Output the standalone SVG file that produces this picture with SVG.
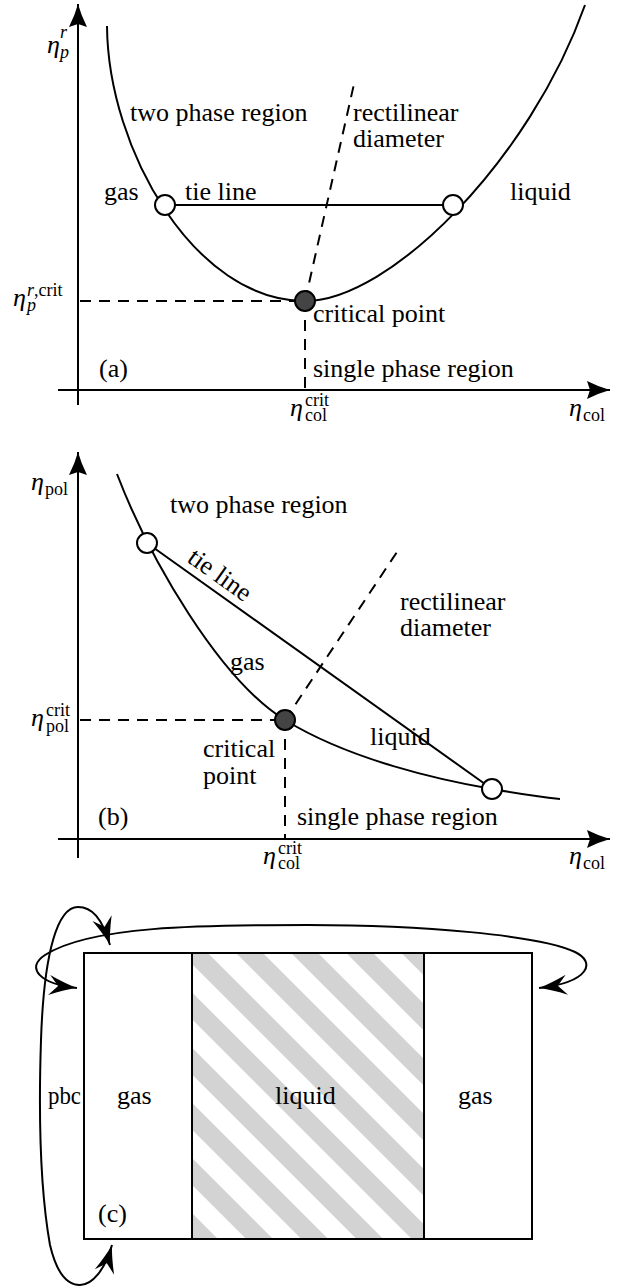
<svg xmlns="http://www.w3.org/2000/svg" width="625" height="1288" viewBox="0 0 625 1288">
<style>
.t{font-family:"Liberation Serif","Times New Roman",serif;font-size:26px;fill:#000}
.s{font-size:18px}
.i{font-style:italic}
.ax{stroke:#000;stroke-width:2;fill:none}
.cv{stroke:#000;stroke-width:2;fill:none}
.ds{stroke:#000;stroke-width:2;fill:none;stroke-dasharray:11 8}
.op{fill:#fff;stroke:#000;stroke-width:2}
.cp{fill:#444;stroke:#000;stroke-width:2}
.bx{fill:#fff;stroke:#000;stroke-width:2}
.wrap{stroke:#000;stroke-width:2;fill:none}
</style>
<defs>
<marker id="axhead" markerUnits="userSpaceOnUse" viewBox="-24 -10 26 20" refX="0" refY="0" markerWidth="26" markerHeight="20" orient="auto" overflow="visible">
<path d="M0,0 Q-11,-3 -23,-9 L-20,0 L-23,9 Q-11,3 0,0 Z" fill="#000"/>
</marker>
<marker id="stealth" markerUnits="userSpaceOnUse" viewBox="-30 -12 32 24" refX="0" refY="0" markerWidth="32" markerHeight="24" orient="auto-start-reverse" overflow="visible">
<path d="M0,0 Q-12,-3 -28,-10 L-19,0 L-28,10 Q-12,3 0,0 Z" fill="#000"/>
</marker>
<pattern id="hatch" patternUnits="userSpaceOnUse" width="39" height="39" patternTransform="rotate(-45)">
<rect x="0" y="0" width="19" height="39" fill="#d3d3d3"/>
</pattern>
</defs>

<!-- Panel (a) -->
<g id="panel-a">
<g id="a-axes">
<line class="ax" x1="78" y1="405" x2="78" y2="4" marker-end="url(#axhead)"/>
<line class="ax" x1="58" y1="390" x2="610" y2="390" marker-end="url(#axhead)"/>
</g>
<g id="a-guides">
<line class="ds" x1="80" y1="301" x2="305" y2="301"/>
<line class="ds" x1="305" y1="301" x2="305" y2="390"/>
<line class="ds" x1="305" y1="301" x2="354" y2="84"/>
</g>
<g id="a-curve">
<path class="cv" d="M107,26 C108,150 195,301 305,301 C390,301 530,160 585,5"/>
</g>
<g id="a-tieline">
<line class="cv" x1="165" y1="205" x2="453" y2="205"/>
</g>
<g id="a-gas-point"><circle class="op" cx="165" cy="205" r="10"/></g>
<g id="a-liquid-point"><circle class="op" cx="453" cy="205" r="10"/></g>
<g id="a-critical-point"><circle class="cp" cx="305" cy="301" r="10"/></g>
<g id="a-labels">
<text class="t"><tspan class="i" x="47" y="53">η</tspan><tspan class="s i" x="60" y="38">r</tspan><tspan class="s i" x="60" y="58">p</tspan></text>
<text class="t"><tspan class="i" x="13" y="306">η</tspan><tspan class="s" x="27" y="296"><tspan class="i">r</tspan>,crit</tspan><tspan class="s i" x="27" y="311">p</tspan></text>
<text class="t" x="130" y="121">two phase region</text>
<text class="t" x="353" y="121">rectilinear</text>
<text class="t" x="353" y="147">diameter</text>
<text class="t" x="104" y="200">gas</text>
<text class="t" x="185" y="200">tie line</text>
<text class="t" x="510" y="200">liquid</text>
<text class="t" x="313" y="322">critical point</text>
<text class="t" x="99" y="377">(a)</text>
<text class="t" x="313" y="377">single phase region</text>
<text class="t"><tspan class="i" x="290" y="416">η</tspan><tspan class="s" x="305" y="406">crit</tspan><tspan class="s" x="305" y="421">col</tspan></text>
<text class="t"><tspan class="i" x="569" y="416">η</tspan><tspan class="s" x="583" y="421">col</tspan></text>
</g>
</g>

<!-- Panel (b) -->
<g id="panel-b">
<g id="b-axes">
<line class="ax" x1="78" y1="858" x2="78" y2="452" marker-end="url(#axhead)"/>
<line class="ax" x1="58" y1="839" x2="610" y2="839" marker-end="url(#axhead)"/>
</g>
<g id="b-guides">
<line class="ds" x1="80" y1="720" x2="285" y2="720"/>
<line class="ds" x1="285" y1="720" x2="285" y2="839"/>
<line class="ds" x1="285" y1="720" x2="399" y2="549"/>
</g>
<g id="b-curve">
<path class="cv" d="M117,474 C150,560 220,680 285,720 C350,760 440,780 492,789 C520,794 540,797 560,799"/>
</g>
<g id="b-tieline">
<line class="cv" x1="147" y1="543" x2="492" y2="789"/>
</g>
<g id="b-gas-point"><circle class="op" cx="147" cy="543" r="10"/></g>
<g id="b-liquid-point"><circle class="op" cx="492" cy="789" r="10"/></g>
<g id="b-critical-point"><circle class="cp" cx="285" cy="720" r="10"/></g>
<g id="b-labels">
<text class="t"><tspan class="i" x="31" y="490">η</tspan><tspan class="s" x="45" y="495">pol</tspan></text>
<text class="t"><tspan class="i" x="31" y="726">η</tspan><tspan class="s" x="46" y="716">crit</tspan><tspan class="s" x="46" y="732">pol</tspan></text>
<text class="t" x="170" y="513">two phase region</text>
<text class="t" transform="translate(186,561) rotate(35.4)" x="0" y="0">tie line</text>
<text class="t" x="400" y="610">rectilinear</text>
<text class="t" x="400" y="636">diameter</text>
<text class="t" x="230" y="670">gas</text>
<text class="t" x="370" y="745">liquid</text>
<text class="t" x="203" y="757">critical</text>
<text class="t" x="203" y="784">point</text>
<text class="t" x="98" y="825">(b)</text>
<text class="t" x="297" y="825">single phase region</text>
<text class="t"><tspan class="i" x="263" y="864">η</tspan><tspan class="s" x="278" y="854">crit</tspan><tspan class="s" x="278" y="869">col</tspan></text>
<text class="t"><tspan class="i" x="569" y="864">η</tspan><tspan class="s" x="583" y="869">col</tspan></text>
</g>
</g>

<!-- Panel (c) -->
<g id="panel-c">
<g id="c-gas-left"><rect class="bx" x="84" y="953" width="108" height="286"/><text class="t" x="117" y="1104">gas</text></g>
<g id="c-liquid"><rect x="192" y="953" width="232" height="286" fill="url(#hatch)"/><rect x="192" y="953" width="232" height="286" fill="none" stroke="#000" stroke-width="2"/><text class="t" x="275" y="1104">liquid</text></g>
<g id="c-gas-right"><rect class="bx" x="424" y="953" width="108" height="286"/><text class="t" x="458" y="1104">gas</text></g>
<g id="c-labels">
<text class="t" x="48" y="1104" textLength="33" lengthAdjust="spacingAndGlyphs">pbc</text>
<text class="t" x="98" y="1222">(c)</text>
</g>
</g>

<g id="connectors">
<path class="wrap" d="M77,988 C40,984 25,968 45,955 C90,926 200,925 308,925 C420,925 540,935 575,952 C596,962 590,982 539,988" marker-start="url(#stealth)" marker-end="url(#stealth)"/>
<path class="wrap" d="M110,945 C102,918 92,907 78,907 C58,907 44,950 41,1040 C38,1130 42,1200 50,1245 C57,1275 68,1285 80,1285 C92,1285 105,1270 112,1245" marker-start="url(#stealth)" marker-end="url(#stealth)"/>
</g>
</svg>
